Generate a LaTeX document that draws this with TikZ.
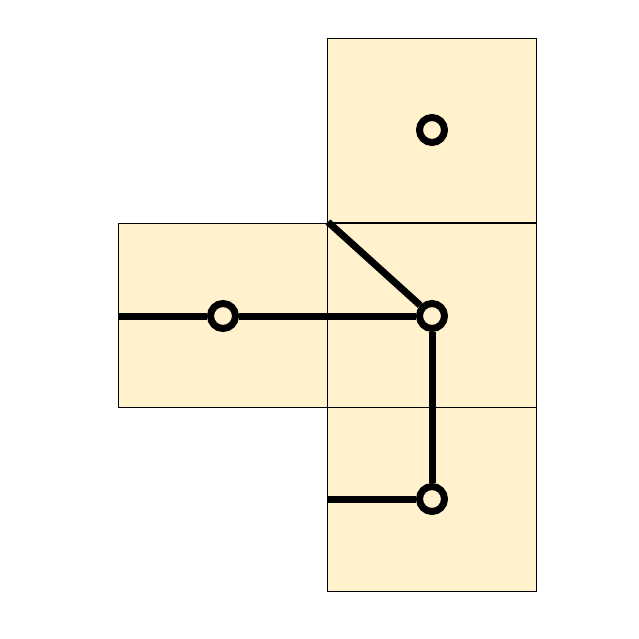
\documentclass[tikz,border=0pt]{standalone}
\usetikzlibrary{positioning}
\definecolor{cellfill}{HTML}{FFF2CC}
\begin{document}
\begin{tikzpicture}[x=1pt,y=-1pt,
  cell/.style={draw=black,line width=1pt,fill=cellfill,minimum width=209pt,minimum height=184pt,inner sep=0pt,outer sep=0pt},
  pin/.style={circle,draw=black,line width=7pt,fill=cellfill,minimum size=25pt,inner sep=0pt},
  wire/.style={line width=7pt,black}]
\useasboundingbox (0,0) rectangle (638,639);
\node[cell] (top) at (432,130.5) {};
\node[cell] (left) at (223,315) {};
\node[cell] (mid) at (432,315) {};
\node[cell] (bot) at (432,499) {};
\coordinate (lin) at (118,316);
\coordinate (diag) at (328,222);
\coordinate (bin) at (328,499);
\node[pin] (p0) at (432,130) {};
\node[pin] (p1) at (223,316) {};
\node[pin] (p2) at (432,316) {};
\node[pin] (p3) at (432,499) {};
\draw[wire] (lin) -- (p1);
\draw[wire] (p1) -- (p2);
\draw[wire] (diag) -- (p2);
\draw[wire] (p2) -- (p3);
\draw[wire] (bin) -- (p3);
\end{tikzpicture}
\end{document}
